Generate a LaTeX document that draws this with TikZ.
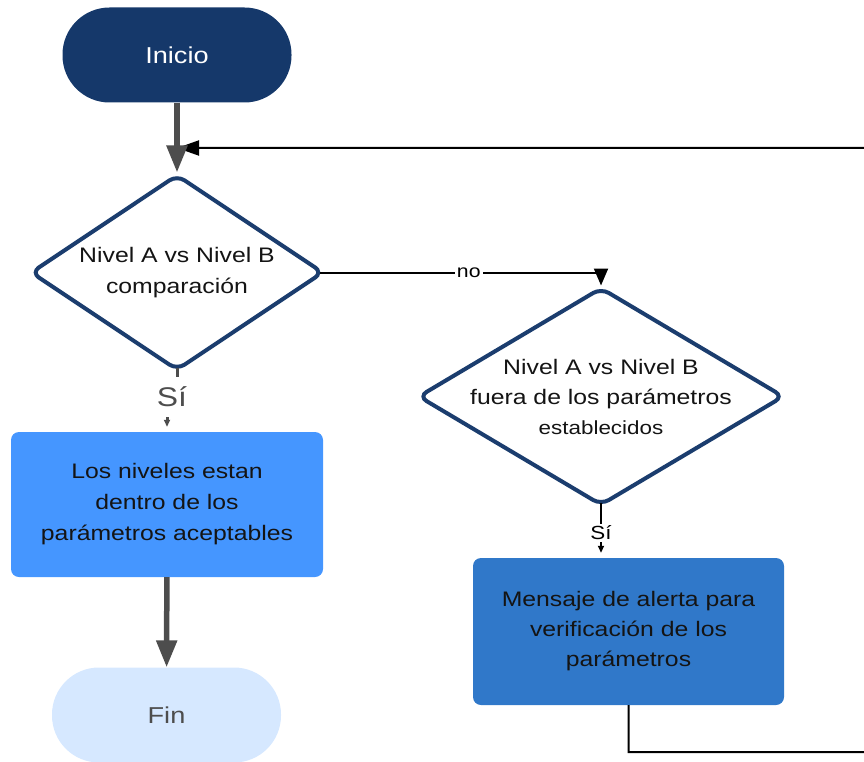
\documentclass[tikz,border=0pt]{standalone}
\usepackage{fontspec}
\setmainfont{Liberation Sans}[FakeStretch=1.18]
\usetikzlibrary{shapes.geometric, arrows.meta, positioning, calc}
\definecolor{iniciobg}{RGB}{21,56,106}
\definecolor{decisionnavy}{RGB}{27,61,110}
\definecolor{okblue}{RGB}{69,150,255}
\definecolor{alertblue}{RGB}{48,120,201}
\definecolor{finblue}{RGB}{214,232,255}
\definecolor{flowgray}{RGB}{77,77,77}
\definecolor{textdark}{RGB}{20,20,20}

\tikzset{
  terminal/.style={rectangle, rounded corners=47pt, minimum width=229pt, minimum height=95pt, font=\fontsize{23}{27}\selectfont},
  decision/.style={diamond, draw=decisionnavy, line width=4pt, fill=white, rounded corners=9pt, inner sep=0pt},
  process/.style={rectangle, rounded corners=8pt, text=textdark, align=center, font=\fontsize{21}{31}\selectfont},
  dtext/.style={align=center, text=textdark, font=\fontsize{21}{31}\selectfont},
  mainflow/.style={-{Triangle[length=27pt, width=20pt]}, line width=5.5pt, flowgray},
  thinflow/.style={-{Triangle[length=22pt, width=15pt]}, line width=2pt, black},
  yesflow/.style={-{Triangle[length=7pt, width=6pt]}, shorten >=5pt, shorten <=-5pt},
  silabel/.style={fill=white, inner sep=2pt},
}

\begin{document}
\begin{tikzpicture}[x=1pt, y=-1pt]
    \useasboundingbox (0,0) rectangle (864,762);
    \clip (0,0) rectangle (864,762);

    % nodes
    \node[terminal, fill=iniciobg, text=white] (inicio) at (177,55) {Inicio};
    \node[decision, minimum width=293pt, minimum height=196pt,
          label={[dtext]center:{Nivel A vs Nivel B\\comparación}}] (d1) at (177,272.5) {};
    \node[decision, minimum width=366pt, minimum height=218pt,
          label={[dtext, font=\fontsize{21}{30}\selectfont]center:{Nivel A vs Nivel B\\fuera de los parámetros\\{\fontsize{19}{30}\selectfont establecidos}}}] (d2) at (601,396.5) {};
    \node[process, fill=okblue, minimum width=312pt, minimum height=145pt] (ok) at (167,504.5) {Los niveles estan\\dentro de los\\parámetros aceptables};
    \node[process, fill=alertblue, minimum width=311pt, minimum height=147pt, font=\fontsize{21}{30}\selectfont] (alert) at (628.5,631.5) {Mensaje de alerta para\\verificación de los\\parámetros};
    \node[terminal, fill=finblue, text=flowgray] (fin) at (166.5,715) {Fin};

    % loop back
    \coordinate (loopdown) at ($(alert.south)+(0,47)$);
    \coordinate (loopright) at (880,752);
    \coordinate (looptop) at (880,148);
    \coordinate (merge) at (177,148);
    \draw[thinflow] (alert.south) -- (loopdown) -- (loopright) -- (looptop) -- (merge);

    % connectors
    \draw[mainflow] (inicio) -- (d1);
    \draw[thinflow, -{Triangle[length=17pt, width=14pt]}, shorten <=-6pt] (d1.east) -| (d2.north)
        node[pos=0.26, silabel, font=\fontsize{18}{20}\selectfont] {no};
    \draw[yesflow, line width=3pt, flowgray] (d1.south) -- ++(0,24) -| (ok.north)
        node[pos=0.25, silabel, minimum height=40pt, text=flowgray, font=\fontsize{27}{30}\selectfont] {Sí};
    \draw[yesflow, line width=2pt, black] (d2.south) -- (d2.south |- alert.north)
        node[midway, silabel, font=\fontsize{19}{22}\selectfont] {Sí};
    \draw[mainflow] (ok) -- (fin);
\end{tikzpicture}
\end{document}
